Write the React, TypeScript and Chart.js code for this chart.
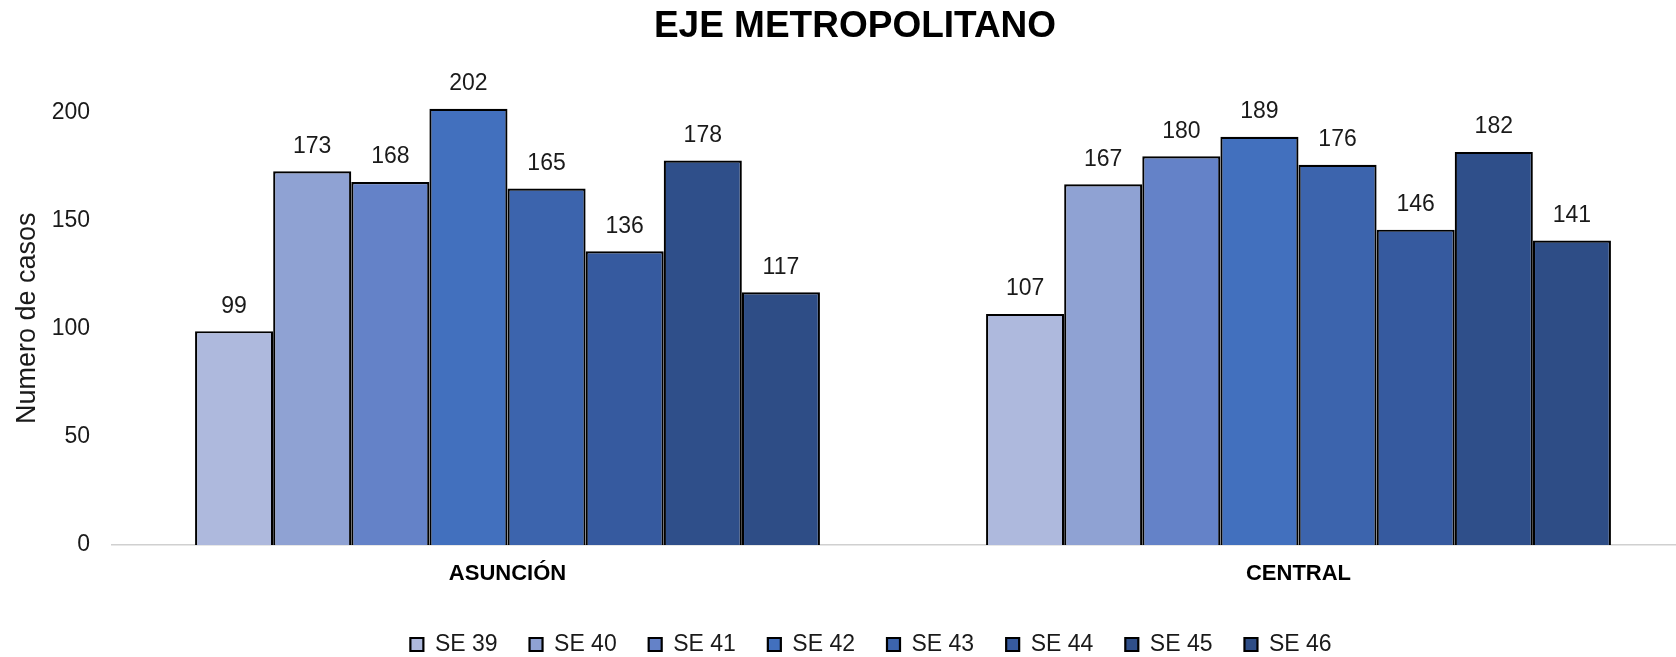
import React, { useEffect, useRef } from "react";
import { Chart, registerables } from "chart.js";

Chart.register(...registerables);

const title = "EJE METROPOLITANO";
const categories = ["ASUNCIÓN", "CENTRAL"];
const weeks = ["SE 39", "SE 40", "SE 41", "SE 42", "SE 43", "SE 44", "SE 45", "SE 46"];
const asuncion = [99, 173, 168, 202, 165, 136, 178, 117];
const central = [107, 167, 180, 189, 176, 146, 182, 141];
const weekColors = ["#aeb9dd", "#8fa2d3", "#6482c8", "#4270be", "#3c64ad", "#365a9f", "#2f4f8a", "#2e4d86"];
const yTicks = [0, 50, 100, 150, 200];
const yTitle = "Numero de casos";

const FONT = "'Liberation Sans', Arial, sans-serif";

const valueLabels = {
  id: "valueLabels",
  afterDatasetsDraw(chart: any) {
    const ctx = chart.ctx;
    ctx.save();
    ctx.font = `23px ${FONT}`;
    ctx.fillStyle = "#1a1a1a";
    ctx.textAlign = "center";
    ctx.textBaseline = "middle";
    chart.data.datasets.forEach((ds: any, i: number) => {
      const meta = chart.getDatasetMeta(i);
      meta.data.forEach((bar: any, j: number) => {
        ctx.fillText(String(ds.data[j]), bar.x, bar.y - 25);
      });
    });
    ctx.restore();
  },
};

const blockShift = {
  id: "blockShift",
  afterLayout(chart: any) {
    const l = chart.legend;
    if (l) {
      l.left += 24;
      l.right += 24;
    }
    const t = chart.titleBlock;
    if (t) {
      t.left += 8;
      t.right += 8;
    }
  },
};

export default function App() {
  const ref = useRef<HTMLCanvasElement | null>(null);
  useEffect(() => {
    if (!ref.current) return;
    const datasets = weeks.map((w, i) => ({
      label: w,
      data: [asuncion[i], central[i]],
      backgroundColor: weekColors[i],
      borderColor: "#000",
      borderWidth: 2.2,
      categoryPercentage: 0.79,
      barPercentage: 1,
    }));
    const chart = new Chart(ref.current, {
      type: "bar",
      data: { labels: categories, datasets },
      plugins: [valueLabels, blockShift],
      options: {
        animation: false,
        responsive: false,
        devicePixelRatio: 1,
        layout: { padding: { left: 0, right: 16, top: 0, bottom: 0 } },
        plugins: {
          title: {
            display: true,
            text: title,
            color: "#000",
            font: { family: FONT, size: 37, weight: "bold" },
            padding: { top: 5, bottom: 42 },
          },
          legend: {
            position: "bottom",
            labels: {
              color: "#1a1a1a",
              font: { family: FONT, size: 23 },
              boxWidth: 13,
              boxHeight: 13,
              padding: 32,
            },
          },
          tooltip: { enabled: false },
        },
        scales: {
          x: {
            grid: { display: false, drawTicks: false },
            border: { display: true, color: "#d0d0d0", width: 1.5 },
            ticks: {
              color: "#000",
              font: { family: FONT, size: 22, weight: "bold" },
              padding: 16,
            },
            afterFit(scale: any) {
              scale.height = 56;
            },
          },
          y: {
            min: 0,
            max: 210,
            grid: { display: false, drawTicks: false },
            border: { display: false },
            ticks: {
              color: "#1a1a1a",
              font: { family: FONT, size: 23 },
              padding: 22,
            },
            afterBuildTicks(scale: any) {
              scale.ticks = yTicks.map((v) => ({ value: v }));
            },
            afterFit(scale: any) {
              scale.width = 112;
            },
            title: {
              display: true,
              text: yTitle,
              color: "#1a1a1a",
              font: { family: FONT, size: 27 },
              padding: { top: 11, bottom: 0 },
            },
          },
        },
      },
    });
    return () => chart.destroy();
  }, []);
  return (
    <div
      style={{
        position: "fixed",
        left: 0,
        top: 0,
        width: 1676,
        height: 657,
        overflow: "hidden",
        background: "#fff",
      }}
    >
      <canvas ref={ref} width={1710} height={666} style={{ display: "block" }} />
    </div>
  );
}
